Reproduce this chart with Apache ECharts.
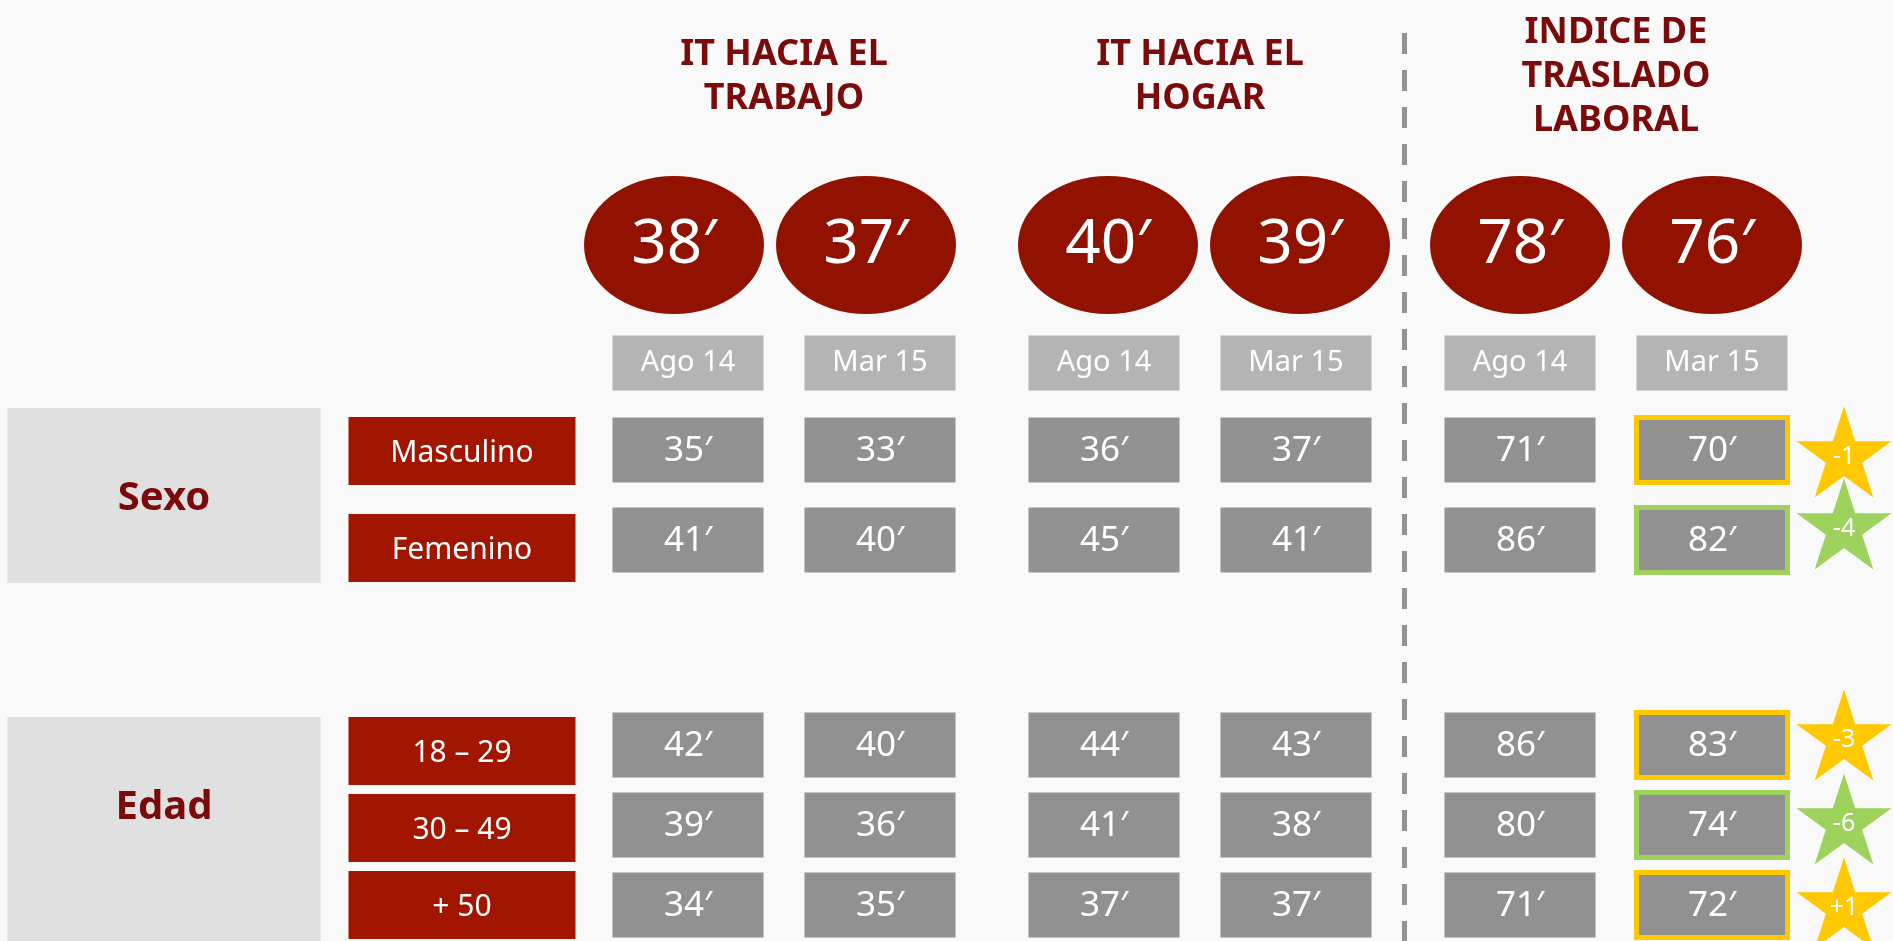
<!DOCTYPE html>
<html>
<head>
<meta charset="utf-8">
<script src="https://cdn.jsdelivr.net/npm/echarts@6/dist/echarts.min.js"></script>
<style>
  html, body { margin: 0; background: #f9f9f9; }
  #chart { width: 1893px; height: 941px; }
</style>
</head>
<body>
<div id="chart"></div>
<script>
// --- datos ---
const metrics = ['IT HACIA EL\nTRABAJO', 'IT HACIA EL\nHOGAR', 'INDICE DE\nTRASLADO\nLABORAL'];
const periods = ['Ago 14', 'Mar 15'];
const totalsAgo = [38, 40, 78];
const totalsMar = [37, 39, 76];
const groups = ['Sexo', 'Edad'];
const segments = ['Masculino', 'Femenino', '18 – 29', '30 – 49', '+ 50'];
const segmentGroup = [0, 0, 1, 1, 1];
const trabajoAgo = [35, 41, 42, 39, 34];
const trabajoMar = [33, 40, 40, 36, 35];
const hogarAgo = [36, 45, 44, 41, 37];
const hogarMar = [37, 41, 43, 38, 37];
const indiceAgo = [71, 86, 86, 80, 71];
const indiceMar = [70, 82, 83, 74, 72];

// --- layout ---
const W = 1893, H = 941;
const FONT = '"Noto Sans", "DejaVu Sans", sans-serif';
const DARK_RED = '#7b0a0a';
const colX = (g, p) => 688 + g * 416 + p * 192;
const circleShift = [-14, 4, 0];
// filas: base y paso por grupo (celdas, etiquetas rojas, estrellas)
const rowLayout = (base, step) => i => {
    const g = segmentGroup[i];
    return base[g] + (i - segmentGroup.indexOf(g)) * step[g];
};
const rowY = rowLayout([450, 745], [90, 80]);
const labelY = rowLayout([451, 751], [97, 77]);
const starY = rowLayout([452, 735], [72, 84]);
const groupTop = [408, 717], groupBottom = [583, 960];
const CELL_W = 151, CELL_H = 65, HEAD_Y = 363, HEAD_H = 55;
const CIRCLE_Y = 245, TITLE_Y = 77;
const LABEL_X = 462, LABEL_W = 227, LABEL_H = 68;
const BLOCK_X = 164, BLOCK_W = 313;
const STAR_X = colX(2, 1) + 132;
const YELLOW = '#ffc800', GREEN = '#9dd35c';

const cols = [[trabajoAgo, trabajoMar], [hogarAgo, hogarMar], [indiceAgo, indiceMar]];
const totals = [totalsAgo, totalsMar];
const delta = indiceMar.map((v, i) => v - indiceAgo[i]);
const flagColor = d => d <= -4 ? GREEN : YELLOW;

// estrella de 5 puntas
function starPath() {
    const pts = [];
    for (let k = 0; k < 10; k++) {
        const r = k % 2 ? 19.1 : 50;
        const a = (-90 + k * 36) * Math.PI / 180;
        pts.push((50 + r * Math.cos(a)).toFixed(2) + ',' + (50 + r * Math.sin(a)).toFixed(2));
    }
    return 'path://M' + pts.join('L') + 'Z';
}

function box(api, x, y, w, h, fill, text, font, stroke, dy) {
    const c = api.coord([x, y]);
    const s = api.size([w, h]);
    return {
        type: 'group',
        children: [{
            type: 'rect',
            shape: { x: c[0] - s[0] / 2, y: c[1] - s[1] / 2, width: s[0], height: s[1] },
            style: { fill: fill, stroke: stroke || null, lineWidth: stroke ? 5 : 0 }
        }, {
            type: 'text',
            x: c[0], y: c[1] + (dy || 0),
            style: { text: text, font: font, fill: '#fff', align: 'center', verticalAlign: 'middle' }
        }]
    };
}

// celdas de datos
const cellData = [];
cols.forEach((pair, g) => pair.forEach((arr, p) => arr.forEach((v, i) => {
    cellData.push({ value: [colX(g, p), rowY(i), v], flag: g === 2 && p === 1 ? flagColor(delta[i]) : null });
})));

const headData = [];
metrics.forEach((m, g) => periods.forEach((per, p) => headData.push([colX(g, p), HEAD_Y, p])));

const circleData = [];
metrics.forEach((m, g) => totals.forEach((t, p) => circleData.push([colX(g, p) + circleShift[g], CIRCLE_Y, t[g]])));

const dividerX = (colX(1, 1) + colX(2, 0)) / 2 - 4;

const chart = echarts.init(document.getElementById('chart'));
chart.setOption({
    animation: false,
    backgroundColor: '#f9f9f9',
    grid: { left: 0, right: 0, top: 0, bottom: 0 },
    xAxis: { type: 'value', min: 0, max: W, show: false },
    yAxis: { type: 'value', min: 0, max: H, inverse: true, show: false },
    series: [
        {
            type: 'custom', name: 'bloques',
            data: groups.map((g, i) => [BLOCK_X, (groupTop[i] + groupBottom[i]) / 2]),
            renderItem: (params, api) => {
                const i = params.dataIndex;
                const c = api.coord([BLOCK_X, groupTop[i]]);
                const b = api.coord([BLOCK_X, groupBottom[i]]);
                const t = api.coord([BLOCK_X, groupTop[i] + 91]);
                return {
                    type: 'group',
                    children: [{
                        type: 'rect',
                        shape: { x: c[0] - BLOCK_W / 2, y: c[1], width: BLOCK_W, height: b[1] - c[1] },
                        style: { fill: '#e0e0e0' }
                    }, {
                        type: 'text', x: t[0], y: t[1],
                        style: { text: groups[i], font: 'bold 40px ' + FONT, fill: DARK_RED, align: 'center', verticalAlign: 'middle' }
                    }]
                };
            }
        },
        {
            type: 'custom', name: 'segmentos',
            data: segments.map((s, i) => [LABEL_X, labelY(i)]),
            renderItem: (params, api) => box(api, api.value(0), api.value(1), LABEL_W, LABEL_H,
                '#a21500', segments[params.dataIndex], '30px ' + FONT, null, 2)
        },
        {
            type: 'custom', name: 'periodos',
            data: headData,
            renderItem: (params, api) => box(api, api.value(0), api.value(1), CELL_W, HEAD_H,
                '#b4b4b4', periods[api.value(2)], '29px ' + FONT)
        },
        {
            type: 'custom', name: 'valores',
            data: cellData,
            renderItem: (params, api) => box(api, api.value(0), api.value(1), CELL_W, CELL_H,
                '#919191', api.value(2) + '′', '35px ' + FONT, cellData[params.dataIndex].flag, 1)
        },
        {
            type: 'custom', name: 'titulos',
            data: metrics.map((m, g) => [(colX(g, 0) + colX(g, 1)) / 2, TITLE_Y]),
            renderItem: (params, api) => {
                const c = api.coord([api.value(0), api.value(1)]);
                return {
                    type: 'text', x: c[0], y: c[1],
                    style: {
                        text: metrics[params.dataIndex], font: 'bold 36px ' + FONT, fill: DARK_RED,
                        align: 'center', verticalAlign: 'middle', lineHeight: 44
                    }
                };
            }
        },
        {
            type: 'scatter', name: 'totales',
            data: circleData,
            symbol: 'circle',
            symbolSize: [180, 138],
            itemStyle: { color: '#911200', opacity: 1 },
            label: {
                show: true, position: 'inside', color: '#fff', fontSize: 62, fontFamily: FONT,
                formatter: p => p.value[2] + '′'
            },
            markLine: {
                silent: true, symbol: 'none',
                label: { show: false },
                lineStyle: { color: '#939393', width: 5, type: [21, 16] },
                data: [[
                    { coord: [dividerX, 33] },
                    { coord: [dividerX, H] }
                ]]
            }
        },
        {
            type: 'scatter', name: 'variacion',
            data: delta.map((d, i) => ({ value: [STAR_X, starY(i), d], itemStyle: { color: flagColor(d) } })),
            symbol: starPath(),
            symbolSize: [95, 91],
            itemStyle: { opacity: 1 },
            label: {
                show: true, position: 'inside', color: '#fff', fontSize: 25, fontFamily: FONT,
                offset: [0, 5],
                formatter: p => (p.value[2] > 0 ? '+' : '') + p.value[2]
            }
        }
    ]
});
</script>
</body>
</html>
